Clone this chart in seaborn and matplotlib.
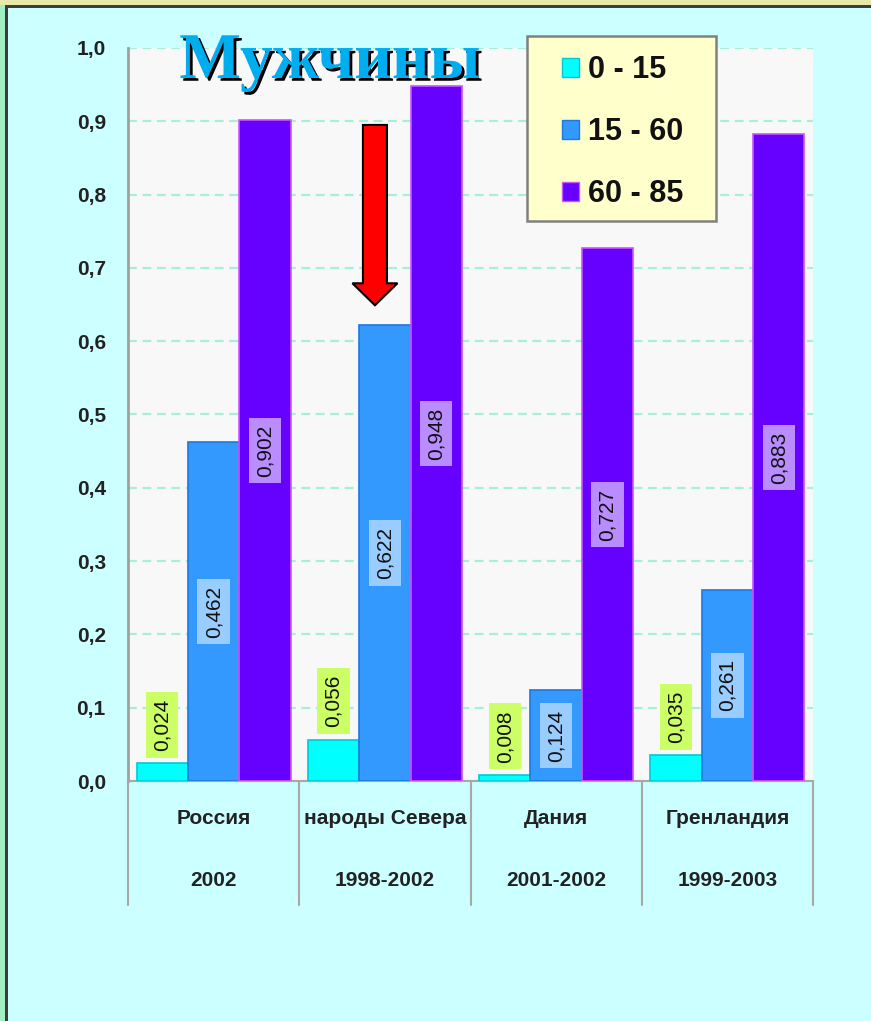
import pandas as pd
import matplotlib
matplotlib.use("Agg")
import matplotlib.pyplot as plt
import matplotlib.patheffects as pe
from matplotlib.patches import Patch, Rectangle, FancyArrow
from matplotlib.ticker import FuncFormatter, MultipleLocator
import seaborn as sns

countries = ["Россия", "народы Севера", "Дания", "Гренландия"]
years = ["2002", "1998-2002", "2001-2002", "1999-2003"]
age_groups = ["0 - 15", "15 - 60", "60 - 85"]
val_0_15 = [0.024, 0.056, 0.008, 0.035]
val_15_60 = [0.462, 0.622, 0.124, 0.261]
val_60_85 = [0.902, 0.948, 0.727, 0.883]

colors = ["#00FFFF", "#3399FF", "#6600FF"]
edges = ["#00C8D8", "#1F77E0", "#CC55FF"]
label_boxes = ["#CCFF66", "#99CCFF", "#B98CFF"]

rows = []
for grp, vals in zip(age_groups, [val_0_15, val_15_60, val_60_85]):
    for c, v in zip(countries, vals):
        rows.append({"country": c, "group": grp, "value": v})
dados = pd.DataFrame(rows)

sns.set_style("white")
plt.rcParams["font.family"] = ["Liberation Sans", "DejaVu Sans"]

fig = plt.figure(figsize=(8.71, 10.21), dpi=100)
fig.patch.set_facecolor("#CCFFFF")
ax = fig.add_axes([128 / 871, 1 - 781 / 1021, 685 / 871, 733 / 1021])
ax.set_facecolor("#F8F8F8")

sns.barplot(data=dados, x="country", y="value", hue="group", order=countries,
            hue_order=age_groups, palette=colors, width=0.9, saturation=1,
            legend=False, ax=ax, zorder=3)

ax.set_ylim(0, 1.0)
ax.set_xlim(-0.5, 3.5)
ax.yaxis.set_major_locator(MultipleLocator(0.1))
ax.yaxis.set_major_formatter(FuncFormatter(lambda v, p: f"{v:.1f}".replace(".", ",")))
ax.grid(axis="y", color="#A8F0D4", linestyle=(0, (4, 2.5)), linewidth=1.6, zorder=1)
ax.set_axisbelow(True)
ax.tick_params(axis="y", direction="out", length=4, width=1.2, color="#909090",
               pad=12, labelsize=15, labelcolor="#222222")
for t in ax.get_yticklabels():
    t.set_fontweight("bold")
ax.set_xticks([])
ax.set_xlabel("")
ax.set_ylabel("")
for s in ["top", "right"]:
    ax.spines[s].set_visible(False)
ax.spines["left"].set_color("#A0A0A0")
ax.spines["left"].set_linewidth(2)
ax.spines["bottom"].set_color("#A8A8A8")
ax.spines["bottom"].set_linewidth(1.5)

# bar edges and value labels
for i, cont in enumerate(ax.containers):
    for bar in cont:
        bar.set_edgecolor(edges[i])
        bar.set_linewidth(1.2)
        h = bar.get_height()
        x = bar.get_x() + bar.get_width() / 2
        txt = f"{h:.3f}".replace(".", ",")
        box = dict(boxstyle="square,pad=0.32", facecolor=label_boxes[i], edgecolor="none")
        if i == 0:
            ax.annotate(txt, (x, h), xytext=(0, 9), textcoords="offset points",
                        rotation=90, ha="center", va="bottom", fontsize=15,
                        color="#111111", bbox=box, zorder=5)
        else:
            ax.text(x, h / 2, txt, rotation=90, ha="center", va="center",
                    fontsize=15, color="#111111", bbox=box, zorder=5)

# category axis with two rows of labels and separators
tr = ax.get_xaxis_transform()
for xb in [-0.5, 0.5, 1.5, 2.5, 3.5]:
    ax.plot([xb, xb], [0, -124 / 733], transform=tr, color="#A8A8A8",
            linewidth=1.5, clip_on=False)
for k, (c, y) in enumerate(zip(countries, years)):
    ax.text(k, -37 / 733, c, transform=tr, ha="center", va="center",
            fontsize=15, fontweight="bold", color="#222222")
    ax.text(k, -99 / 733, y, transform=tr, ha="center", va="center",
            fontsize=15, fontweight="bold", color="#222222")

# red arrow pointing at the northern peoples bar
arrow = FancyArrow(0.942, 0.895, 0, -0.246, width=0.14, head_width=0.263,
                   head_length=0.030, length_includes_head=True,
                   facecolor="#FF0000", edgecolor="black", linewidth=1.5, zorder=6)
ax.add_patch(arrow)

# legend
ax.add_patch(Rectangle((0.582, 0.764), 0.276, 0.252, transform=ax.transAxes,
                       facecolor="#FFFFCC", edgecolor="#808080", linewidth=1.8,
                       clip_on=False, zorder=7))
handles = [Patch(facecolor=colors[i], edgecolor=edges[i], label=age_groups[i])
           for i in range(3)]
leg = ax.legend(handles=handles, loc="upper left", bbox_to_anchor=(0.634, 0.990),
                frameon=False, handlelength=0.55, handleheight=0.55,
                prop={"size": 22, "weight": "bold"},
                handletextpad=0.3, labelspacing=1.05, borderpad=0, borderaxespad=0)
for t in leg.get_texts():
    t.set_color("#111111")
leg.set_zorder(8)

# title
fig.text(330 / 871, 1 - 78 / 1021, "Мужчины", ha="center", va="baseline",
         fontsize=47, fontweight="bold", color="#00AEEF",
         family=["Liberation Serif", "DejaVu Serif"],
         path_effects=[pe.SimplePatchShadow(offset=(2, -2), shadow_rgbFace="black", alpha=1.0),
                       pe.Normal()])

# slide frame
fig.add_artist(Rectangle((0, 1 - 5 / 1021), 1, 5 / 1021, transform=fig.transFigure,
                         facecolor="#E8E8A8", edgecolor="none"))
fig.add_artist(Rectangle((0, 1 - 8 / 1021), 1, 3 / 1021, transform=fig.transFigure,
                         facecolor="#3C3C3C", edgecolor="none"))
fig.add_artist(Rectangle((0, 0), 5 / 871, 1 - 5 / 1021, transform=fig.transFigure,
                         facecolor="#A0F0C4", edgecolor="none"))
fig.add_artist(Rectangle((5 / 871, 0), 3 / 871, 1 - 5 / 1021, transform=fig.transFigure,
                         facecolor="#3C3C3C", edgecolor="none"))

fig.savefig("out.png", dpi=100, facecolor=fig.get_facecolor())
